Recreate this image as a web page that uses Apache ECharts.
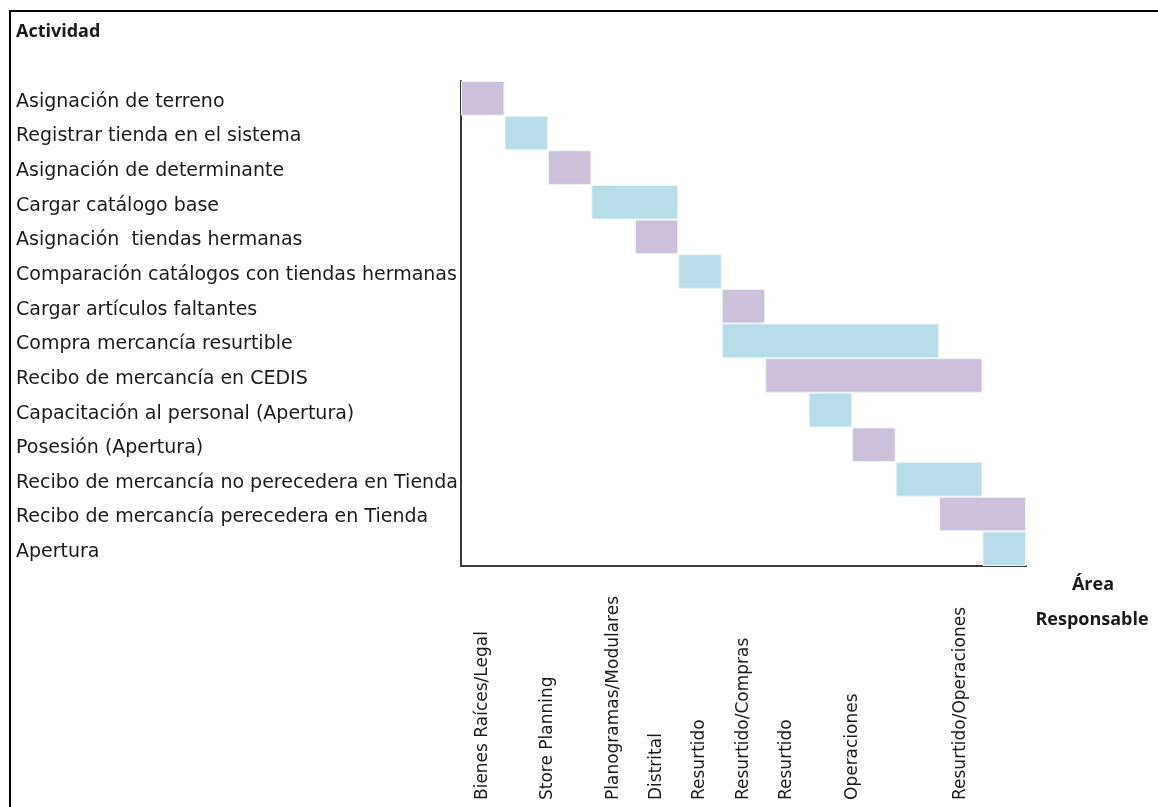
<!DOCTYPE html>
<html>
<head>
<meta charset="utf-8">
<title>Actividad / Área Responsable</title>
<script src="https://cdn.jsdelivr.net/npm/echarts@6/dist/echarts.min.js"></script>
<style>
  html, body { margin: 0; padding: 0; background: #ffffff; }
  #chart { width: 1158px; height: 807px; }
</style>
</head>
<body>
<div id="chart"></div>
<script>
// Activities, top to bottom
const activities = [
  'Asignación de terreno',
  'Registrar tienda en el sistema',
  'Asignación de determinante',
  'Cargar catálogo base',
  'Asignación  tiendas hermanas',
  'Comparación catálogos con tiendas hermanas',
  'Cargar artículos faltantes',
  'Compra mercancía resurtible',
  'Recibo de mercancía en CEDIS',
  'Capacitación al personal (Apertura)',
  'Posesión (Apertura)',
  'Recibo de mercancía no perecedera en Tienda',
  'Recibo de mercancía perecedera en Tienda',
  'Apertura'
];

// Start column and number of columns covered by each activity
const startCol = [0, 1, 2, 3, 4, 5, 6, 6, 7, 8, 9, 10, 11, 12];
const spanCols = [1, 1, 1, 2, 1, 1, 1, 5, 5, 1, 1, 2, 2, 1];

// Responsible areas and their position along the column axis
const areaNames = [
  'Bienes Raíces/Legal', 'Store Planning', 'Planogramas/Modulares', 'Distrital',
  'Resurtido', 'Resurtido/Compras', 'Resurtido', 'Operaciones', 'Resurtido/Operaciones'
];
const areaPos = [0.5, 2, 3.5, 4.5, 5.5, 6.5, 7.5, 9, 11.5];

const totalCols = 13;
const purple = '#CDC0DA';
const blue = '#B7DDE8';
const labelFont = '"DejaVu Sans", "Noto Sans", sans-serif';
const titleFont = '"Open Sans", "Noto Sans", sans-serif';

const areaByPos = {};
areaPos.forEach((p, i) => { areaByPos[p] = areaNames[i]; });

const chart = echarts.init(document.getElementById('chart'), null, { renderer: 'canvas' });

chart.setOption({
  backgroundColor: '#ffffff',
  animation: false,
  grid: { left: 461, right: 132, top: 81, bottom: 241, containLabel: false },
  xAxis: {
    type: 'value',
    min: 0,
    max: totalCols,
    splitLine: { show: false },
    axisTick: { show: false },
    axisLine: { show: true, lineStyle: { color: '#3a3a3a', width: 2 } },
    axisLabel: {
      customValues: areaPos,
      rotate: 90,
      align: 'left',
      margin: 234,
      color: '#1a1a1a',
      fontFamily: labelFont,
      fontSize: 17,
      formatter: v => areaByPos[v] || ''
    }
  },
  yAxis: {
    type: 'category',
    inverse: true,
    data: activities,
    axisTick: { show: false },
    axisLine: { show: true, lineStyle: { color: '#3a3a3a', width: 2 } },
    axisLabel: {
      align: 'left',
      verticalAlign: 'top',
      lineHeight: 7,
      margin: 445,
      color: '#1a1a1a',
      fontFamily: labelFont,
      fontSize: 19
    }
  },
  series: [
    {
      name: 'inicio',
      type: 'bar',
      stack: 'plan',
      barCategoryGap: '0%',
      itemStyle: { color: 'transparent' },
      data: startCol
    },
    {
      name: 'duración',
      type: 'bar',
      stack: 'plan',
      barCategoryGap: '0%',
      data: spanCols.map((s, i) => ({
        value: s,
        itemStyle: {
          color: i % 2 === 0 ? purple : blue,
          borderColor: '#eef4f8',
          borderWidth: 1
        }
      }))
    }
  ],
  graphic: [
    {
      type: 'polyline',
      shape: { points: [[10, 807], [10, 11], [1158, 11]] },
      style: { stroke: '#000000', lineWidth: 2, fill: null }
    },
    {
      type: 'text', x: 16, y: 32,
      style: { text: 'Actividad', font: 'bold 18px ' + titleFont, fill: '#1a1a1a', verticalAlign: 'middle' }
    },
    {
      type: 'text', x: 1093, y: 585,
      style: { text: 'Área', font: 'bold 18px ' + titleFont, fill: '#1a1a1a', align: 'center', verticalAlign: 'middle' }
    },
    {
      type: 'text', x: 1092, y: 620,
      style: { text: 'Responsable', font: 'bold 18px ' + titleFont, fill: '#1a1a1a', align: 'center', verticalAlign: 'middle' }
    }
  ]
});
</script>
</body>
</html>
